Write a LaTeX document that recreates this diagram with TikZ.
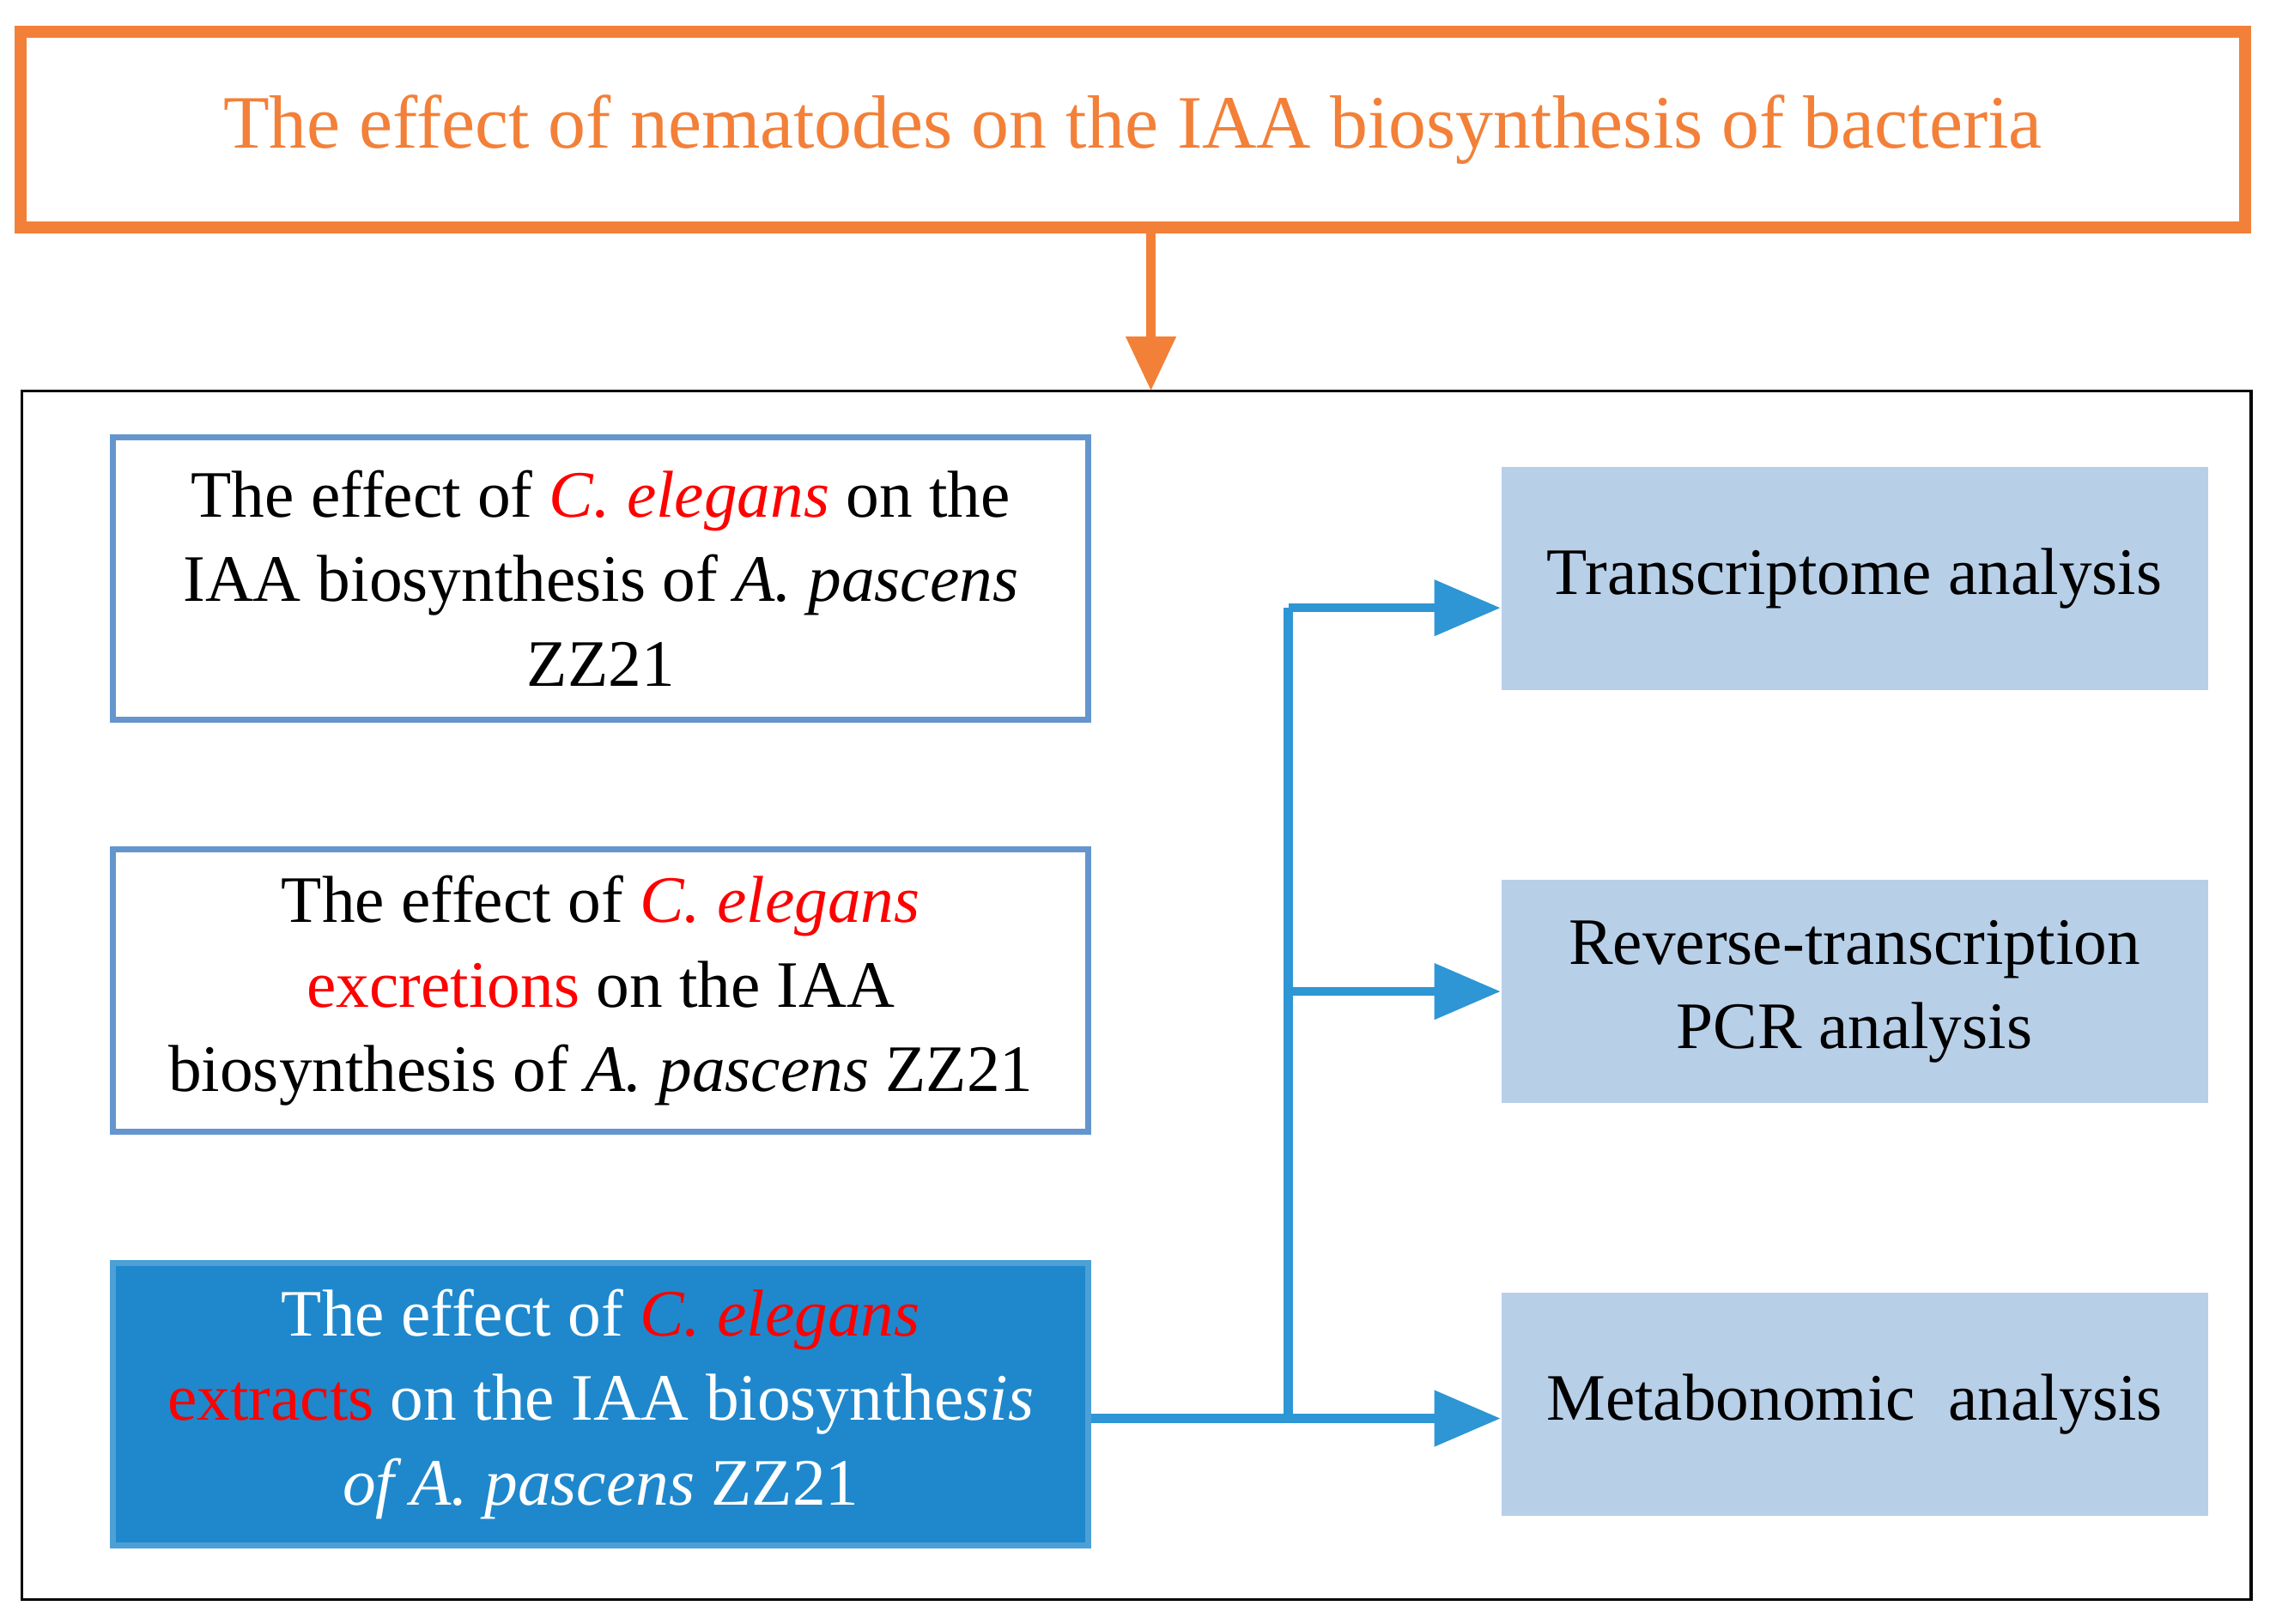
\documentclass[tikz,border=0pt]{standalone}
\usepackage{fontspec}
\setmainfont{Liberation Serif}
\usetikzlibrary{arrows.meta,positioning}
\definecolor{topor}{RGB}{243,128,56}
\definecolor{lineblue}{RGB}{46,150,212}
\definecolor{boxblue}{RGB}{31,136,204}
\definecolor{lightbox}{RGB}{184,207,232}
\definecolor{edgeblue}{RGB}{100,150,205}
\tikzset{
  leftbox/.style={draw=edgeblue, line width=2pt, minimum width=11.36cm, minimum height=3.29cm, align=center, font=\fontsize{22}{28}\selectfont},
  rightbox/.style={fill=lightbox, minimum width=8.23cm, minimum height=2.6cm, align=center, font=\fontsize{22}{28}\selectfont},
  flow/.style={lineblue, line width=3pt, -{Triangle[length=22pt,width=18pt]}}
}
\begin{document}
\begin{tikzpicture}[x=0.01686cm,y=-0.01686cm]
  \useasboundingbox (0,0) rectangle (1568,1121.6);
  % title
  \node[draw=topor, line width=4pt, minimum width=25.9cm, minimum height=2.28cm, text=topor,
        font=\fontsize{25}{30}\selectfont] (title) at (782.5,89.5)
        {The effect of nematodes on the IAA biosynthesis of bacteria};
  % frame
  \draw[black, line width=1pt] (15,270) rectangle (1555,1105);
  \coordinate (frametop) at (795,270);
  \draw[topor, line width=3pt, -{Triangle[length=18pt,width=16pt]}] (title.south -| frametop) -- (frametop);
  % left column
  \node[leftbox] (worm) at (415,399.5)
    {The effect of \textcolor{red}{\textit{C. elegans}} on the\\ IAA biosynthesis of \textit{A. pascens}\\ ZZ21};
  \node[leftbox] (excr) at (415,684.5)
    {The effect of \textcolor{red}{\textit{C. elegans}}\\ \textcolor{red}{excretions} on the IAA\\ biosynthesis of \textit{A. pascens} ZZ21};
  \node[leftbox, fill=boxblue, draw=boxblue!80!white, text=white] (extr) at (415,970)
    {The effect of \textcolor{red}{\textit{C. elegans}}\\ \textcolor{red}{extracts} on the IAA biosynthe\textit{sis}\\ \textit{of A. pascens} ZZ21};
  % right column
  \node[rightbox] (trans) at (1281,399.5) {Transcriptome analysis};
  \node[rightbox] (rtpcr) at (1281,685) {Reverse-transcription\\ PCR analysis};
  \node[rightbox] (meta) at (1281,970) {Metabonomic\ \ analysis};
  % connectors
  \coordinate (split) at (890,980);
  \coordinate (splittop) at (890,420);
  \draw[lineblue, line width=3pt] (extr.east |- split) -- (split) -- (splittop);
  \draw[flow] (splittop) -- (trans.west |- splittop);
  \draw[flow] (split |- rtpcr) -- (rtpcr.west);
  \draw[flow] (split) -- (meta.west |- split);
\end{tikzpicture}
\end{document}
